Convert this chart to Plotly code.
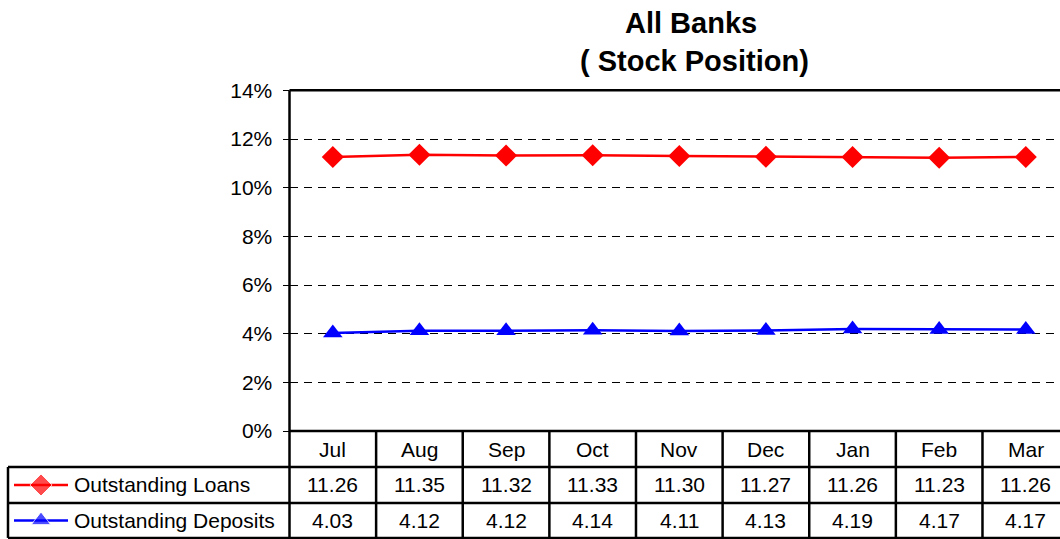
import plotly.graph_objects as go

months = ["Jul", "Aug", "Sep", "Oct", "Nov", "Dec", "Jan", "Feb", "Mar"]
loans = [11.26, 11.35, 11.32, 11.33, 11.30, 11.27, 11.26, 11.23, 11.26]
deposits = [4.03, 4.12, 4.12, 4.14, 4.11, 4.13, 4.19, 4.17, 4.17]
series_names = ["Outstanding Loans", "Outstanding Deposits"]
y_ticks = [0, 2, 4, 6, 8, 10, 12, 14]
y_tick_labels = [f"{v}%" for v in y_ticks]

W, H = 1060, 563
FONT = "Liberation Sans, Arial, sans-serif"
FS = 21

# vertical calibration of the page photo (target px -> layout px)
CAL_A, CAL_B = 11.6, 0.96

def sy(y):
    return (y - CAL_A) / CAL_B

# layout geometry in target pixels
plot_left = 289.5
plot_top = 90
plot_bottom = 431
row1 = 467
row2 = 503
row3 = 538
table_left = 8
col_w = 86.6
x_first = 333

def px(x):
    return x / W

def py(y):
    return 1 - sy(y) / H

x_range = [-0.5, (W - x_first) / col_w]

fig = go.Figure()

fig.add_trace(go.Scatter(
    x=list(range(len(months))), y=loans, mode="lines+markers",
    line=dict(color="#ff0000", width=2.5),
    marker=dict(symbol="diamond", size=17, color="#ff0000"),
    showlegend=False, cliponaxis=False))
fig.add_trace(go.Scatter(
    x=list(range(len(months))), y=deposits, mode="lines+markers",
    line=dict(color="#0000ff", width=2.5),
    marker=dict(symbol="triangle-up", size=17, color="#0000ff"),
    showlegend=False, cliponaxis=False))

key_specs = [("#ff0000", "diamond", (row1 + row2) / 2),
             ("#0000ff", "triangle-up", (row2 + row3) / 2)]
for color, sym, yc in key_specs:
    fig.add_trace(go.Scatter(
        x=[14, 41, 68], y=[yc, yc, yc], mode="lines+markers",
        line=dict(color=color, width=2.5),
        marker=dict(symbol=sym, size=[0, 17, 0], color=color),
        xaxis="x2", yaxis="y2", showlegend=False, hoverinfo="skip"))

annotations = []
shapes = []
LW = 2.5

annotations.append(dict(text="<b>All Banks</b>", x=px(691), y=py(23), xref="paper", yref="paper",
                        showarrow=False, font=dict(size=29, family=FONT, color="black"),
                        xanchor="center", yanchor="middle"))
annotations.append(dict(text="<b>( Stock Position)</b>", x=px(694.5), y=py(61), xref="paper", yref="paper",
                        showarrow=False, font=dict(size=29, family=FONT, color="black"),
                        xanchor="center", yanchor="middle"))

for i, m in enumerate(months):
    annotations.append(dict(text=m, x=i, y=py((plot_bottom + row1) / 2), xref="x", yref="paper",
                            showarrow=False, font=dict(size=FS, family=FONT, color="black"),
                            xanchor="center", yanchor="middle"))
    annotations.append(dict(text=f"{loans[i]:.2f}", x=i, y=py((row1 + row2) / 2), xref="x", yref="paper",
                            showarrow=False, font=dict(size=FS, family=FONT, color="black"),
                            xanchor="center", yanchor="middle"))
    annotations.append(dict(text=f"{deposits[i]:.2f}", x=i, y=py((row2 + row3) / 2), xref="x", yref="paper",
                            showarrow=False, font=dict(size=FS, family=FONT, color="black"),
                            xanchor="center", yanchor="middle"))
for name, (_, _, yc) in zip(series_names, key_specs):
    annotations.append(dict(text=name, x=px(72), y=py(yc), xref="paper", yref="paper",
                            showarrow=False, font=dict(size=FS, family=FONT, color="black"),
                            xanchor="left", yanchor="middle"))

def hline(y, x0, x1):
    shapes.append(dict(type="line", xref="paper", yref="paper", x0=px(x0), x1=px(x1),
                       y0=py(y), y1=py(y), line=dict(color="black", width=LW), layer="above"))

def vline(x, y0, y1):
    shapes.append(dict(type="line", xref="paper", yref="paper", x0=px(x), x1=px(x),
                       y0=py(y0), y1=py(y1), line=dict(color="black", width=LW), layer="above"))

hline(plot_top, plot_left, W + 5)
hline(plot_bottom, plot_left, W + 5)
hline(row1, table_left, W + 5)
hline(row2, table_left, W + 5)
hline(row3, table_left, W + 5)
vline(plot_left, plot_top, row3)
vline(table_left, row1, row3)
for i in range(1, len(months)):
    shapes.append(dict(type="line", xref="x", yref="paper", x0=i - 0.5, x1=i - 0.5,
                       y0=py(row3), y1=py(plot_bottom), line=dict(color="black", width=LW),
                       layer="above"))

fig.update_layout(
    width=W, height=H, autosize=False,
    margin=dict(l=0, r=0, t=0, b=0, pad=0),
    paper_bgcolor="white", plot_bgcolor="white",
    font=dict(family=FONT, color="black"),
    xaxis=dict(domain=[px(plot_left), 1], range=x_range, showgrid=False, zeroline=False,
               showticklabels=False, ticks="", fixedrange=True),
    yaxis=dict(domain=[py(plot_bottom), py(plot_top)], range=[0, 14],
               tickmode="array", tickvals=y_ticks, ticktext=y_tick_labels,
               showgrid=True, gridcolor="black", gridwidth=1, griddash="8px,6px",
               zeroline=False, ticks="outside", ticklen=6, tickwidth=1, tickcolor="black",
               ticklabelstandoff=6,
               showline=False, tickfont=dict(size=FS, family=FONT, color="black"),
               fixedrange=True),
    xaxis2=dict(domain=[0, px(plot_left)], range=[0, plot_left], visible=False, fixedrange=True),
    yaxis2=dict(domain=[py(row3 + 1), py(plot_bottom)], range=[row3 + 1, plot_bottom],
                visible=False, fixedrange=True),
    annotations=annotations,
    shapes=shapes,
    showlegend=False,
)

fig.write_html("out.html", config={"displayModeBar": False, "responsive": False},
               post_script="document.body.style.margin='0';document.body.style.overflow='hidden';")
